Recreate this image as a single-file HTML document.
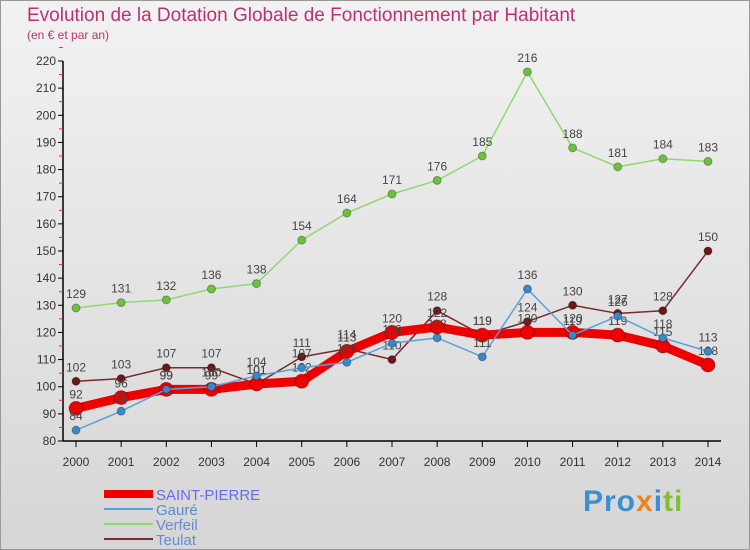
<!DOCTYPE html>
<html><head><meta charset="utf-8"><style>
body{margin:0;background:#fff}
#wrap{position:relative;width:748px;height:548px;border:1px solid #999;background:linear-gradient(#f2f2f2,#d6d6d6);font-family:"Liberation Sans",sans-serif;overflow:hidden}
.t{position:absolute;color:#c03070}
</style></head><body>
<div id="wrap">
<div class="t" style="left:26px;top:4px;font-size:19px">Evolution de la Dotation Globale de Fonctionnement par Habitant</div>
<div class="t" style="left:26px;top:27px;font-size:12px">(en € et par an)</div>
<svg id="c" width="750" height="550" style="position:absolute;left:0;top:0"></svg>
<div style="position:absolute;left:582px;top:484px;font-size:30px;font-weight:bold;letter-spacing:1px"><span style="color:#3a8fd0">Pro</span><span style="color:#f08020">x</span><span style="color:#3a8fd0">i</span><span style="color:#80c030">ti</span></div>
</div>
<script>
const years=[2000,2001,2002,2003,2004,2005,2006,2007,2008,2009,2010,2011,2012,2013,2014];
const yTicks=[80,90,100,110,120,130,140,150,160,170,180,190,200,210,220];
const saintPierre=[92,96,99,99,101,102,113,120,122,119,120,120,119,115,108];
const gaure=[84,91,99,100,104,107,109,116,118,111,136,119,126,118,113];
const verfeil=[129,131,132,136,138,154,164,171,176,185,216,188,181,184,183];
const teulat=[102,103,107,107,101,111,114,110,128,119,124,130,127,128,150];
const svg=document.getElementById('c');const NS='http://www.w3.org/2000/svg';
const X=i=>75+i*(707-75)/(years.length-1);
const Y=v=>440-(v-80)*(380/140);
function mk(t,a,p){const e=document.createElementNS(NS,t);for(const k in a)e.setAttribute(k,a[k]);(p||svg).appendChild(e);return e;}
// axes
let ax=mk('line',{x1:62,y1:60,x2:62,y2:440,stroke:'#000','stroke-width':1.5});


let bx=mk('line',{x1:62,y1:440,x2:720,y2:440,stroke:'#000','stroke-width':1.5});


yTicks.forEach(v=>{
 mk('line',{x1:57,y1:Y(v),x2:62,y2:Y(v),stroke:'#000'});
 mk('line',{x1:58,y1:Y(v+5),x2:62,y2:Y(v+5),stroke:'#e03030'});
 const t=mk('text',{x:55,y:Y(v)+4,'text-anchor':'end','font-size':12,fill:'#333','font-family':'Liberation Sans'});
 t.textContent=v;
 
 
});
years.forEach((y,i)=>{
 mk('line',{x1:X(i),y1:440,x2:X(i),y2:446,stroke:'#000'});
 const t=mk('text',{x:X(i),y:465,'text-anchor':'middle','font-size':12,fill:'#333','font-family':'Liberation Sans'});
 t.textContent=y;
 
 
});
function series(name,data,color,w,r,dot){
 const g=mk('g',{});
 
 
 mk('polyline',{points:data.map((v,i)=>X(i)+','+Y(v)).join(' '),fill:'none',stroke:color,'stroke-width':w,'stroke-linejoin':'round'},g);
 data.forEach((v,i)=>{
  const c=mk('circle',{cx:X(i),cy:Y(v),r:r,fill:dot,stroke:'rgba(0,0,0,0.3)'},g);
  
  
  const t=mk('text',{x:X(i),y:Y(v)-10,'text-anchor':'middle','font-size':12,fill:'#444','font-family':'Liberation Sans'},g);
  t.textContent=v;
  
  
 });
}
series('verfeil',verfeil,'#90d870',1.5,4,'#70c040');
series('teulat',teulat,'#7a2a2a',1.5,4,'#6a1818');
series('saint-pierre',saintPierre,'#ee0000',9,7,'#ee0000');
series('gaure',gaure,'#5aa0d8',1.5,4,'#3a88c8');
const leg=[['SAINT-PIERRE','#ee0000',8,'#6a6af0'],['Gauré','#5aa0d8',2,'#5a8ad0'],['Verfeil','#90d870',2,'#6a8ad0'],['Teulat','#7a2a2a',2,'#6a8ad0']];
leg.forEach((l,i)=>{
 const y=493+i*15;
 const ln=mk('line',{x1:103,y1:y,x2:152,y2:y,stroke:l[1],'stroke-width':l[2]});
 
 
 const t=mk('text',{x:155,y:y+6,'font-size':15,fill:l[3],'font-family':'Liberation Sans'});
 t.textContent=l[0];
 
 
});
</script>
</body></html>
